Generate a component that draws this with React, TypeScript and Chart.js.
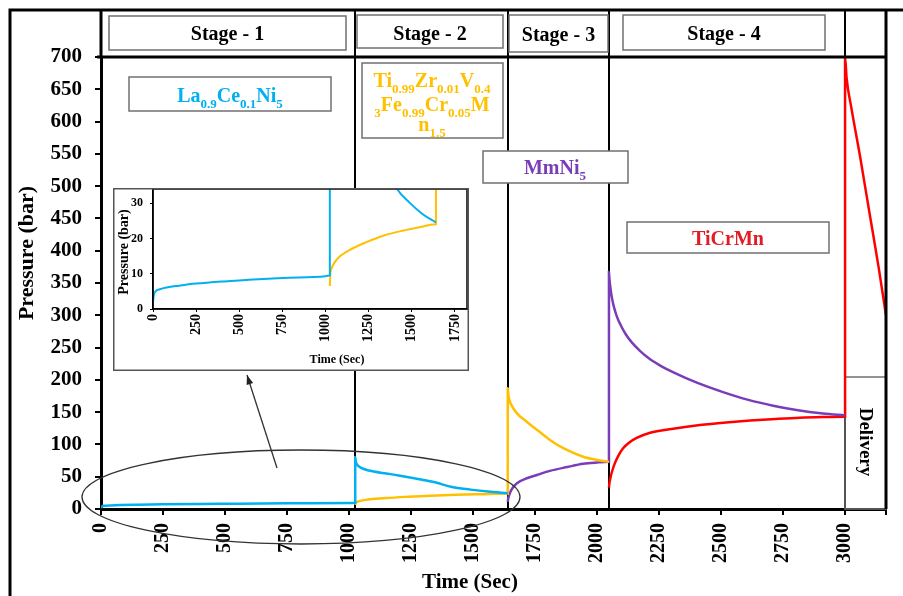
import React, { useEffect, useRef } from 'react';
import { Chart, registerables } from 'chart.js';

Chart.register(...registerables);

const FONT = "'Liberation Serif', 'Times New Roman', serif";

// ---- axis ranges ----
const xMax = 3165;
const yMax = 700;
const xStep = 250;
const yStep = 50;
const insetXMax = 1820;
const insetYMax = 34;
const insetXTicks = [0, 250, 500, 750, 1000, 1250, 1500, 1750];
const insetYTicks = [0, 10, 20, 30];

// ---- stages ----
const stageTimes = [1025, 1640, 2050, 3000];
const stageLabels = ['Stage - 1', 'Stage - 2', 'Stage - 3', 'Stage - 4'];

// ---- La0.9Ce0.1Ni5 (cyan) ----
const laTime1 = [0, 5, 15, 40, 80, 150, 250, 400, 500, 750, 1000, 1025];
const laPres1 = [2, 4, 5, 5.6, 6.1, 6.6, 7.2, 7.8, 8.1, 8.8, 9.3, 9.5];
const laTime2 = [1025, 1027, 1032, 1040, 1060, 1100, 1150, 1200, 1300, 1350, 1415, 1490, 1560, 1640];
const laPres2 = [80, 74, 69, 66, 62, 58, 55, 52, 45, 41, 34, 30, 27, 24.5];

// ---- Ti0.99Zr0.01V0.43Fe0.99Cr0.05Mn1.5 (gold) ----
const tiTime2 = [1025, 1028, 1035, 1050, 1085, 1150, 1240, 1330, 1430, 1530, 1640];
const tiPres2 = [6.5, 10, 11.5, 13, 15, 17, 19, 20.7, 22, 23, 24];
const tiTime3 = [1640, 1642, 1646, 1652, 1662, 1680, 1720, 1760, 1810, 1870, 1944, 2000, 2048];
const tiPres3 = [187, 178, 170, 163, 156, 147, 134, 122, 107, 93, 81, 76, 73];

// ---- MmNi5 (purple) ----
const mmTime3 = [1640, 1643, 1650, 1660, 1677, 1720, 1760, 1810, 1880, 1944, 2000, 2048];
const mmPres3 = [11, 18, 26, 33, 40, 48, 53, 59, 65, 70, 72, 73];
const mmTime4 = [2048, 2050, 2054, 2060, 2068, 2080, 2095, 2115, 2140, 2173, 2210, 2260, 2306, 2400, 2508, 2610, 2710, 2810, 2911, 3000];
const mmPres4 = [367, 356, 342, 327, 313, 298, 285, 271, 258, 245, 233, 221, 212, 196, 181, 169, 160, 153, 148, 145];

// ---- TiCrMn (red) ----
const tcTime4 = [2048, 2050, 2055, 2062, 2072, 2085, 2105, 2130, 2160, 2214, 2300, 2415, 2520, 2617, 2720, 2818, 2911, 3000];
const tcPres4 = [33, 40, 50, 60, 71, 82, 94, 103, 110, 118, 124, 130, 134, 137, 139.5, 141.5, 142.5, 143];
const tcTime5 = [3000, 3006, 3025, 3060, 3100, 3135, 3165];
const tcPres5 = [700, 668, 622, 547, 455, 375, 300];

const COLORS = {
  la: '#00B0F0',
  ti: '#FFC000',
  mm: '#7A3DB8',
  tc: '#FF0000',
};

const zip = (ts: number[], ps: number[]) => ts.map((t, i) => ({ x: t, y: ps[i] }));

const laData = [...zip(laTime1, laPres1), ...zip(laTime2, laPres2)];
const tiData = [...zip(tiTime2, tiPres2), ...zip(tiTime3, tiPres3)];
const mmData = [...zip(mmTime3, mmPres3), ...zip(mmTime4, mmPres4)];
const tcData = [...zip(tcTime4, tcPres4), ...zip(tcTime5, tcPres5)];

type Seg = [string, boolean];

function drawRich(ctx: CanvasRenderingContext2D, segs: Seg[], cx: number, baseY: number, size: number, subSize: number, color: string) {
  const main = `bold ${size}px ${FONT}`;
  const sub = `bold ${subSize}px ${FONT}`;
  let w = 0;
  for (const [t, s] of segs) {
    ctx.font = s ? sub : main;
    w += ctx.measureText(t).width;
  }
  let x = cx - w / 2;
  ctx.fillStyle = color;
  ctx.textAlign = 'left';
  ctx.textBaseline = 'alphabetic';
  for (const [t, s] of segs) {
    ctx.font = s ? sub : main;
    ctx.fillText(t, x, s ? baseY + size * 0.28 : baseY);
    x += ctx.measureText(t).width;
  }
}

function box(ctx: CanvasRenderingContext2D, x0: number, y0: number, x1: number, y1: number, fill = true) {
  if (fill) {
    ctx.fillStyle = '#fff';
    ctx.fillRect(x0, y0, x1 - x0, y1 - y0);
  }
  ctx.strokeStyle = '#707070';
  ctx.lineWidth = 1.5;
  ctx.strokeRect(x0, y0, x1 - x0, y1 - y0);
}

const noPadX = (h: number) => (s: any) => {
  s.height = h;
  s.paddingLeft = 0;
  s.paddingRight = 0;
};
const noPadY = (w: number) => (s: any) => {
  s.width = w;
  s.paddingTop = 0;
  s.paddingBottom = 0;
};
const fixedTicks = (vals: number[]) => (s: any) => {
  s.ticks = vals.map((v) => ({ value: v }));
};

const mainDecor = {
  id: 'mainDecor',
  beforeDraw(chart: any) {
    const { ctx, width, height } = chart;
    ctx.save();
    ctx.fillStyle = '#fff';
    ctx.fillRect(0, 0, width, height);
    ctx.restore();
  },
  beforeDatasetsDraw(chart: any) {
    const { ctx, chartArea: a, scales } = chart;
    const xs = scales.x;
    ctx.save();
    ctx.strokeStyle = '#000';
    ctx.lineWidth = 2;
    stageTimes.forEach((t) => {
      const px = Math.round(xs.getPixelForValue(t));
      ctx.beginPath();
      ctx.moveTo(px, 10);
      ctx.lineTo(px, a.bottom);
      ctx.stroke();
    });
    // Delivery box
    const dx0 = Math.round(xs.getPixelForValue(stageTimes[3]));
    box(ctx, dx0, 377, a.right, a.bottom, false);
    ctx.restore();
  },
  afterDatasetsDraw(chart: any) {
    const { ctx, chartArea: a, scales } = chart;
    const xs = scales.x;
    ctx.save();
    // frames
    ctx.strokeStyle = '#000';
    ctx.lineWidth = 3;
    ctx.beginPath();
    ctx.moveTo(10, 596);
    ctx.lineTo(10, 10);
    ctx.lineTo(903, 10);
    ctx.stroke();
    ctx.beginPath();
    ctx.moveTo(a.left, 10);
    ctx.lineTo(a.left, a.top);
    ctx.moveTo(a.right, 10);
    ctx.lineTo(a.right, a.bottom);
    ctx.moveTo(a.left - 4, a.top);
    ctx.lineTo(a.right, a.top);
    ctx.stroke();

    // stage header boxes
    const p = stageTimes.map((t) => Math.round(xs.getPixelForValue(t)));
    const headerBoxes = [
      [109, 16, 346, 50],
      [357, 15, 503, 48],
      [p[1] + 1, 15, p[2] - 1, 52],
      [623, 15, 825, 50],
    ];
    headerBoxes.forEach((b, i) => {
      box(ctx, b[0], b[1], b[2], b[3]);
      ctx.fillStyle = '#000';
      ctx.font = `bold 20px ${FONT}`;
      ctx.textAlign = 'center';
      ctx.textBaseline = 'alphabetic';
      ctx.fillText(stageLabels[i], (b[0] + b[2]) / 2, i === 2 ? 41 : 40);
    });

    // alloy label boxes
    box(ctx, 129, 77, 331, 111);
    drawRich(ctx, [['La', false], ['0.9', true], ['Ce', false], ['0.1', true], ['Ni', false], ['5', true]], 230, 102, 20, 13, COLORS.la);

    box(ctx, 362, 63, 503, 138);
    drawRich(ctx, [['Ti', false], ['0.99', true], ['Zr', false], ['0.01', true], ['V', false], ['0.4', true]], 432, 87, 20, 13, COLORS.ti);
    drawRich(ctx, [['3', true], ['Fe', false], ['0.99', true], ['Cr', false], ['0.05', true], ['M', false]], 432, 111, 20, 13, COLORS.ti);
    drawRich(ctx, [['n', false], ['1.5', true]], 432, 131, 20, 13, COLORS.ti);

    box(ctx, 483, 151, 628, 183);
    drawRich(ctx, [['MmNi', false], ['5', true]], 555, 174, 20, 13, COLORS.mm);

    box(ctx, 627, 222, 829, 253);
    drawRich(ctx, [['TiCrMn', false]], 728, 245, 20, 13, '#E31B23');

    // Delivery text
    ctx.save();
    ctx.translate(865, 442);
    ctx.rotate(Math.PI / 2);
    ctx.fillStyle = '#000';
    ctx.font = `bold 19px ${FONT}`;
    ctx.textAlign = 'center';
    ctx.textBaseline = 'middle';
    ctx.fillText('Delivery', 0, 0);
    ctx.restore();

    // axis titles
    ctx.save();
    ctx.translate(27, 253);
    ctx.rotate(-Math.PI / 2);
    ctx.fillStyle = '#000';
    ctx.font = `bold 22px ${FONT}`;
    ctx.textAlign = 'center';
    ctx.textBaseline = 'middle';
    ctx.fillText('Pressure (bar)', 0, 0);
    ctx.restore();
    ctx.fillStyle = '#000';
    ctx.font = `bold 21px ${FONT}`;
    ctx.textAlign = 'center';
    ctx.textBaseline = 'middle';
    ctx.fillText('Time (Sec)', 470, 583);

    // ellipse and arrow
    ctx.strokeStyle = '#333';
    ctx.lineWidth = 1.3;
    ctx.beginPath();
    ctx.ellipse(301, 497, 219, 47, 0, 0, Math.PI * 2);
    ctx.stroke();
    const ax0 = 277, ay0 = 468, ax1 = 247, ay1 = 375;
    ctx.beginPath();
    ctx.moveTo(ax0, ay0);
    ctx.lineTo(ax1, ay1);
    ctx.stroke();
    const ang = Math.atan2(ay1 - ay0, ax1 - ax0);
    ctx.fillStyle = '#222';
    ctx.beginPath();
    ctx.moveTo(ax1, ay1);
    ctx.lineTo(ax1 - 10 * Math.cos(ang - 0.35), ay1 - 10 * Math.sin(ang - 0.35));
    ctx.lineTo(ax1 - 10 * Math.cos(ang + 0.35), ay1 - 10 * Math.sin(ang + 0.35));
    ctx.closePath();
    ctx.fill();
    ctx.restore();
  },
};

const insetDecor = {
  id: 'insetDecor',
  beforeDraw(chart: any) {
    const { ctx, width, height } = chart;
    ctx.save();
    ctx.fillStyle = '#fff';
    ctx.fillRect(0, 0, width, height);
    ctx.restore();
  },
  afterDraw(chart: any) {
    const { ctx, chartArea: a, width, height } = chart;
    ctx.save();
    ctx.strokeStyle = '#000';
    ctx.lineWidth = 1.5;
    ctx.strokeRect(a.left, a.top, a.right - a.left, a.bottom - a.top);
    ctx.strokeStyle = '#555';
    ctx.lineWidth = 1.5;
    ctx.strokeRect(0.75, 0.75, width - 1.5, height - 1.5);
    ctx.fillStyle = '#000';
    ctx.textAlign = 'center';
    ctx.textBaseline = 'middle';
    ctx.font = `bold 12px ${FONT}`;
    ctx.fillText('Time (Sec)', 224, 172);
    ctx.translate(11, 64);
    ctx.rotate(-Math.PI / 2);
    ctx.font = `bold 14px ${FONT}`;
    ctx.fillText('Pressure (bar)', 0, 0);
    ctx.restore();
  },
};

const lineDs = (label: string, data: any[], color: string, width: number) => ({
  label,
  data,
  borderColor: color,
  backgroundColor: color,
  borderWidth: width,
  pointRadius: 0,
  fill: false,
  cubicInterpolationMode: 'monotone' as const,
});

export default function App() {
  const mainRef = useRef<HTMLCanvasElement>(null);
  const insetRef = useRef<HTMLCanvasElement>(null);

  useEffect(() => {
    const tickFont = (size: number) => ({ family: FONT, size, weight: 'bold' as const });
    const main = new Chart(mainRef.current!, {
      type: 'line',
      data: {
        datasets: [
          lineDs('La0.9Ce0.1Ni5', laData, COLORS.la, 2.5),
          lineDs('Ti0.99Zr0.01V0.43Fe0.99Cr0.05Mn1.5', tiData, COLORS.ti, 2.5),
          lineDs('MmNi5', mmData, COLORS.mm, 2.5),
          lineDs('TiCrMn', tcData, COLORS.tc, 2.5),
        ],
      },
      options: {
        animation: false,
        responsive: false,
        devicePixelRatio: 1,
        layout: { padding: { top: 57, right: 17, left: 0, bottom: 0 } },
        plugins: { legend: { display: false }, tooltip: { enabled: false } },
        scales: {
          x: {
            type: 'linear',
            min: 0,
            max: xMax,
            afterFit: noPadX(87),
            border: { display: true, color: '#000', width: 3 },
            grid: { drawOnChartArea: false, drawTicks: true, tickLength: 6, color: '#000', lineWidth: 2 },
            ticks: {
              stepSize: xStep,
              autoSkip: false,
              minRotation: 90,
              maxRotation: 90,
              padding: 8,
              color: '#000',
              font: tickFont(20),
              callback: (v: any) => (Number(v) % xStep === 0 ? String(v) : ''),
            },
          },
          y: {
            type: 'linear',
            min: 0,
            max: yMax,
            afterFit: noPadY(101),
            border: { display: true, color: '#000', width: 3 },
            grid: { drawOnChartArea: false, drawTicks: true, tickLength: 6, color: '#000', lineWidth: 2 },
            ticks: {
              stepSize: yStep,
              autoSkip: false,
              padding: 13,
              color: '#000',
              font: tickFont(21),
              callback: (v: any) => String(v),
            },
          },
        },
      },
      plugins: [mainDecor],
    });

    const inset = new Chart(insetRef.current!, {
      type: 'line',
      data: {
        datasets: [
          lineDs('La0.9Ce0.1Ni5', laData, COLORS.la, 2),
          lineDs('Ti0.99Zr0.01V0.43Fe0.99Cr0.05Mn1.5', tiData, COLORS.ti, 2),
        ],
      },
      options: {
        animation: false,
        responsive: false,
        devicePixelRatio: 1,
        layout: { padding: { top: 1, right: 2, left: 0, bottom: 0 } },
        plugins: { legend: { display: false }, tooltip: { enabled: false } },
        scales: {
          x: {
            type: 'linear',
            min: 0,
            max: insetXMax,
            afterBuildTicks: fixedTicks(insetXTicks),
            afterFit: noPadX(62),
            border: { display: true, color: '#000', width: 1.5 },
            grid: { drawOnChartArea: false, drawTicks: true, tickLength: 3, color: '#000', lineWidth: 1 },
            ticks: {
              autoSkip: false,
              minRotation: 90,
              maxRotation: 90,
              padding: 2,
              color: '#000',
              font: tickFont(14),
              callback: (v: any) => String(v),
            },
          },
          y: {
            type: 'linear',
            min: 0,
            max: insetYMax,
            afterBuildTicks: fixedTicks(insetYTicks),
            afterFit: noPadY(40),
            border: { display: true, color: '#000', width: 1.5 },
            grid: { drawOnChartArea: false, drawTicks: true, tickLength: 3, color: '#000', lineWidth: 1 },
            ticks: {
              autoSkip: false,
              padding: 7,
              color: '#000',
              font: tickFont(12),
              callback: (v: any) => String(v),
            },
          },
        },
      },
      plugins: [insetDecor],
    });

    return () => {
      main.destroy();
      inset.destroy();
    };
  }, []);

  return (
    <div style={{ position: 'absolute', left: 0, top: 0, width: 903, height: 596, overflow: 'hidden', background: '#fff' }}>
      <canvas ref={mainRef} width={903} height={596} style={{ position: 'absolute', left: 0, top: 0, width: 903, height: 596 }} />
      <canvas ref={insetRef} width={356} height={183} style={{ position: 'absolute', left: 113, top: 188, width: 356, height: 183 }} />
    </div>
  );
}
